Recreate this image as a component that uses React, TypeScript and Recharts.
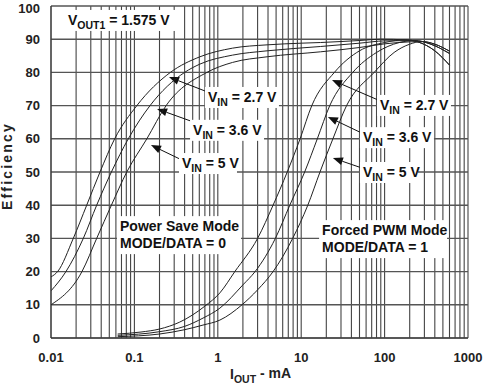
import { LineChart, Line, XAxis, YAxis, ReferenceLine, ReferenceDot } from "recharts";

// current in mA, efficiency in %
const psm27 = [
  { cur: 0.01, eff: 18.4 }, { cur: 0.012, eff: 20 }, { cur: 0.0185, eff: 30 }, { cur: 0.0268, eff: 40 },
  { cur: 0.0387, eff: 50 }, { cur: 0.058, eff: 60 }, { cur: 0.107, eff: 70 }, { cur: 0.27, eff: 80 },
  { cur: 0.61, eff: 84.7 }, { cur: 1.5, eff: 87.3 }, { cur: 3.9, eff: 88.3 }, { cur: 10, eff: 88.8 },
  { cur: 17, eff: 89 }, { cur: 30, eff: 89.3 }, { cur: 50, eff: 89.6 }, { cur: 90, eff: 90 },
  { cur: 180, eff: 89.8 }, { cur: 250, eff: 89.2 }, { cur: 400, eff: 86.5 }, { cur: 600, eff: 82.2 },
];
const psm36 = [
  { cur: 0.01, eff: 14.2 }, { cur: 0.0151, eff: 20 }, { cur: 0.0244, eff: 30 }, { cur: 0.0353, eff: 40 },
  { cur: 0.053, eff: 50 }, { cur: 0.0845, eff: 60 }, { cur: 0.154, eff: 70 }, { cur: 0.4, eff: 80 },
  { cur: 0.61, eff: 82.5 }, { cur: 1.5, eff: 85.2 }, { cur: 3.9, eff: 86.5 }, { cur: 17, eff: 87.8 },
  { cur: 50, eff: 88.8 }, { cur: 100, eff: 89.5 }, { cur: 230, eff: 89.6 }, { cur: 350, eff: 88.6 },
  { cur: 600, eff: 85.7 },
];
const psm50 = [
  { cur: 0.01, eff: 10 }, { cur: 0.0235, eff: 20 }, { cur: 0.0353, eff: 30 }, { cur: 0.053, eff: 40 },
  { cur: 0.081, eff: 50 }, { cur: 0.141, eff: 60 }, { cur: 0.24, eff: 70 }, { cur: 0.74, eff: 80 },
  { cur: 1.5, eff: 83 }, { cur: 3.9, eff: 84.7 }, { cur: 17, eff: 86.2 }, { cur: 50, eff: 87.5 },
  { cur: 100, eff: 88.6 }, { cur: 200, eff: 89.2 }, { cur: 280, eff: 89.3 }, { cur: 400, eff: 88.5 },
  { cur: 600, eff: 86.4 },
];
const pwm27 = [
  { cur: 0.063, eff: 1.2 }, { cur: 0.12, eff: 1.8 }, { cur: 0.2, eff: 2.7 }, { cur: 0.35, eff: 4.8 },
  { cur: 0.7, eff: 9.6 }, { cur: 1.06, eff: 13.6 }, { cur: 1.6, eff: 20 }, { cur: 3, eff: 30 },
  { cur: 4.6, eff: 40 }, { cur: 6.8, eff: 50 }, { cur: 9.7, eff: 60 }, { cur: 13.4, eff: 70 },
  { cur: 25, eff: 80 }, { cur: 50, eff: 86.5 }, { cur: 100, eff: 89 }, { cur: 180, eff: 89.8 },
  { cur: 250, eff: 89.2 }, { cur: 400, eff: 86.5 }, { cur: 600, eff: 82.2 },
];
const pwm36 = [
  { cur: 0.063, eff: 0.8 }, { cur: 0.2, eff: 1.9 }, { cur: 0.4, eff: 3.5 }, { cur: 0.665, eff: 6 },
  { cur: 1.06, eff: 9 }, { cur: 2, eff: 16 }, { cur: 2.8, eff: 20 }, { cur: 4.9, eff: 30 },
  { cur: 7.3, eff: 40 }, { cur: 11, eff: 50 }, { cur: 15.6, eff: 60 }, { cur: 22, eff: 70 },
  { cur: 41.5, eff: 80 }, { cur: 80, eff: 86 }, { cur: 150, eff: 89 }, { cur: 230, eff: 89.6 },
  { cur: 350, eff: 88.6 }, { cur: 600, eff: 85.7 },
];
const pwm50 = [
  { cur: 0.063, eff: 0.4 }, { cur: 0.2, eff: 1.2 }, { cur: 0.4, eff: 2.5 }, { cur: 0.665, eff: 3.9 },
  { cur: 1.06, eff: 5.4 }, { cur: 1.95, eff: 10 }, { cur: 3, eff: 14.5 }, { cur: 4.6, eff: 20 },
  { cur: 7.9, eff: 30 }, { cur: 12, eff: 40 }, { cur: 16.8, eff: 50 }, { cur: 24, eff: 60 },
  { cur: 35, eff: 70 }, { cur: 75, eff: 80 }, { cur: 130, eff: 86 }, { cur: 200, eff: 88.5 },
  { cur: 280, eff: 89.3 }, { cur: 400, eff: 88.5 }, { cur: 600, eff: 86.4 },
];

const series = [psm27, psm36, psm50, pwm27, pwm36, pwm50];

const xTicks = [0.01, 0.1, 1, 10, 100, 1000];
const yTicks = [0, 10, 20, 30, 40, 50, 60, 70, 80, 90, 100];
const minorSteps = [1, 2, 3, 4, 5, 6, 7, 8, 9];
const xGrid: number[] = [];
xTicks.slice(0, -1).forEach((d) => minorSteps.forEach((m) => xGrid.push(+(d * m).toPrecision(3))));
xGrid.push(1000);

// annotation text, anchored at left edge / vertical centre
const tags = [
  { x: 0.016, y: 95.8, main: "V", sub: "OUT1", rest: " = 1.575 V", w: 112 },
  { x: 0.762, y: 72.6, main: "V", sub: "IN", rest: " = 2.7 V", w: 74 },
  { x: 0.505, y: 62.7, main: "V", sub: "IN", rest: " = 3.6 V", w: 74 },
  { x: 0.372, y: 52.7, main: "V", sub: "IN", rest: " = 5 V", w: 58 },
  { x: 88, y: 70.2, main: "V", sub: "IN", rest: " = 2.7 V", w: 74 },
  { x: 55, y: 60.5, main: "V", sub: "IN", rest: " = 3.6 V", w: 74 },
  { x: 55, y: 50, main: "V", sub: "IN", rest: " = 5 V", w: 58 },
];

const arrows = [
  { from: { x: 0.703, y: 74.4 }, to: { x: 0.26, y: 78.6 } },
  { from: { x: 0.505, y: 65.1 }, to: { x: 0.187, y: 69.0 } },
  { from: { x: 0.372, y: 53.6 }, to: { x: 0.158, y: 58.1 } },
  { from: { x: 83.4, y: 71.7 }, to: { x: 23.4, y: 77.7 } },
  { from: { x: 53.6, y: 61.7 }, to: { x: 20.9, y: 66.6 } },
  { from: { x: 53.6, y: 51.2 }, to: { x: 24.0, y: 54.2 } },
];

const modes = [
  { x: 0.0672, y: 33.7, lines: ["Power Save Mode", "MODE/DATA = 0"], w: 124 },
  { x: 17.8, y: 32.5, lines: ["Forced PWM Mode", "MODE/DATA = 1"], w: 128 },
];

const font = "'Liberation Sans', Arial, sans-serif";

function Tag(props: any) {
  const { cx, cy, t } = props;
  return (
    <g>
      <rect x={cx - 3} y={cy - 10} width={t.w} height={21} fill="#fff" />
      <text x={cx} y={cy + 5} fontFamily={font} fontWeight="bold" fontSize={14} fill="#111">
        {t.main}
        <tspan dy={4} fontSize={10.5}>{t.sub}</tspan>
        <tspan dy={-4}>{t.rest}</tspan>
      </text>
    </g>
  );
}

function ModeTag(props: any) {
  const { cx, cy, m } = props;
  return (
    <g>
      <rect x={cx - 3} y={cy - 10} width={m.w} height={38} fill="#fff" />
      {m.lines.map((l: string, i: number) => (
        <text key={i} x={cx} y={cy + 5 + i * 17} fontFamily={font} fontWeight="bold" fontSize={14} fill="#111">
          {l}
        </text>
      ))}
    </g>
  );
}

function Arrow(props: any) {
  const { x1, y1, x2, y2 } = props;
  const a = Math.atan2(y2 - y1, x2 - x1);
  const len = 10;
  const half = 4;
  const bx = x2 - len * Math.cos(a);
  const by = y2 - len * Math.sin(a);
  const px = -Math.sin(a) * half;
  const py = Math.cos(a) * half;
  return (
    <g>
      <line x1={x1} y1={y1} x2={bx} y2={by} stroke="#111" strokeWidth={1} />
      <polygon points={`${x2},${y2} ${bx + px},${by + py} ${bx - px},${by - py}`} fill="#111" />
    </g>
  );
}

const tickStyle = { fontFamily: font, fontWeight: "bold", fontSize: 13, fill: "#222" };

export default function App() {
  return (
    <div style={{ position: "absolute", left: 0, top: 0, background: "#fff" }}>
      <LineChart width={487} height={391} margin={{ top: 6, right: 19, bottom: 23, left: 11 }}>
        <XAxis
          dataKey="cur"
          type="number"
          scale="log"
          domain={[0.01, 1000]}
          ticks={xTicks}
          allowDataOverflow
          height={30}
          tickLine={false}
          tickMargin={9}
          axisLine={{ stroke: "#333" }}
          tick={tickStyle}
          label={{
            content: () => (
              <text x={230} y={379} fontFamily={font} fontWeight="bold" fontSize={14} fill="#222">
                I<tspan dy={4} fontSize={10.5}>OUT</tspan>
                <tspan dy={-5}> - mA</tspan>
              </text>
            ),
          }}
        />
        <YAxis
          type="number"
          domain={[0, 100]}
          ticks={yTicks}
          width={40}
          tickLine={false}
          tickMargin={5}
          axisLine={{ stroke: "#333" }}
          tick={tickStyle}
          label={{
            content: () => (
              <text
                x={12}
                y={166}
                transform="rotate(-90 12 166)"
                textAnchor="middle"
                fontFamily={font}
                fontWeight="bold"
                fontSize={14}
                letterSpacing={2.2}
                fill="#222"
              >
                Efficiency
              </text>
            ),
          }}
        />
        {xGrid.map((v) => (
          <ReferenceLine key={"x" + v} x={v} stroke="#444" strokeWidth={1.1} />
        ))}
        {yTicks.map((v) => (
          <ReferenceLine key={"y" + v} y={v} stroke="#555" strokeWidth={1.4} />
        ))}
        {tags.map((t, i) => (
          <ReferenceDot key={"t" + i} x={t.x} y={t.y} r={0} shape={(p: any) => <Tag {...p} t={t} />} />
        ))}
        {modes.map((m, i) => (
          <ReferenceDot key={"m" + i} x={m.x} y={m.y} r={0} shape={(p: any) => <ModeTag {...p} m={m} />} />
        ))}
        {arrows.map((a, i) => (
          <ReferenceLine key={"a" + i} segment={[a.from, a.to]} shape={(p: any) => <Arrow {...p} />} />
        ))}
        {series.map((s, i) => (
          <Line
            key={i}
            data={s}
            dataKey="eff"
            type="monotone"
            stroke="#222"
            strokeWidth={1}
            dot={false}
            isAnimationActive={false}
          />
        ))}
      </LineChart>
    </div>
  );
}
